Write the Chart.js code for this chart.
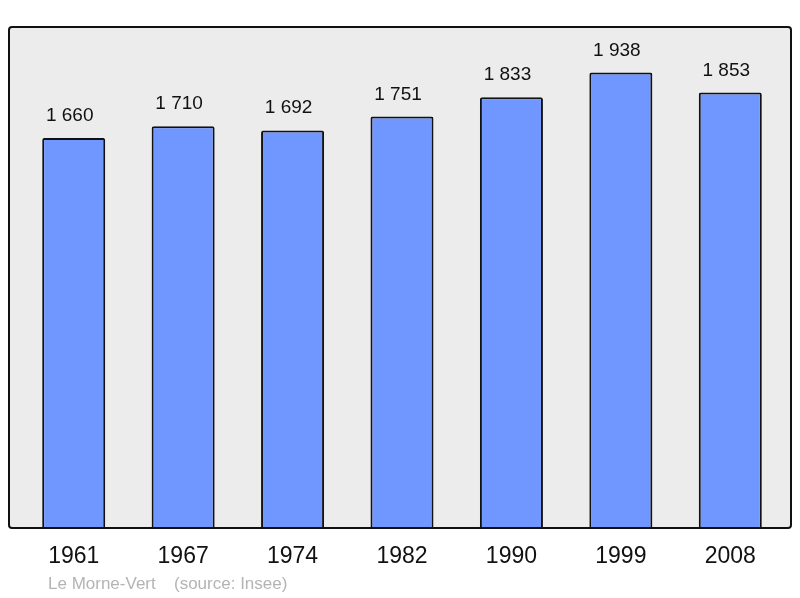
<!DOCTYPE html>
<html>
<head>
<meta charset="utf-8">
<script src="https://cdn.jsdelivr.net/npm/chart.js@4/dist/chart.umd.min.js"></script>
<style>
	html, body { margin: 0; padding: 0; background: #fff; }
	#wrap { width: 800px; height: 598px; }
</style>
</head>
<body>
<div id="wrap"><canvas id="my-chart" width="800" height="598"></canvas></div>
<script>
//==========
// Data

const years = ["1961", "1967", "1974", "1982", "1990", "1999", "2008"];
const population = [1660, 1710, 1692, 1751, 1833, 1938, 1853];
const yMax = 2132;// 1.1 x max
const place = "Le Morne-Vert";
const source = "(source: Insee)";

function fmt(n){
	// thousands separated by a space
	return String(n).replace(/\B(?=(\d{3})+(?!\d))/g, " ");
}

//==========
// Plugin: grey box, value labels, caption

const boxPlugin = {
	id: "box",
	beforeDraw(chart){
		const a = chart.chartArea;
		const ctx = chart.ctx;
		ctx.save();
		ctx.beginPath();
		ctx.roundRect(a.left - 10, a.top, a.right - a.left + 16, a.bottom - a.top, 3);
		ctx.fillStyle = "#ececec";
		ctx.fill();
		ctx.restore();
	},
	afterDatasetsDraw(chart){
		const a = chart.chartArea;
		const ctx = chart.ctx;
		ctx.save();
		ctx.beginPath();
		ctx.roundRect(a.left - 10, a.top, a.right - a.left + 16, a.bottom - a.top, 3);
		ctx.lineWidth = 2;
		ctx.strokeStyle = "#111";
		ctx.stroke();

		// values above bars
		const meta = chart.getDatasetMeta(0);
		ctx.fillStyle = "#111";
		ctx.font = "19px 'Liberation Sans', Arial, sans-serif";
		ctx.textAlign = "center";
		ctx.textBaseline = "alphabetic";
		meta.data.forEach((bar, i)=>{
			ctx.fillText(fmt(population[i]), bar.x - 4, bar.y - 17);
		});

		// caption
		ctx.fillStyle = "#b4b4b4";
		ctx.font = "17px 'Liberation Sans', Arial, sans-serif";
		ctx.textAlign = "left";
		ctx.fillText(place, 48, 589);
		ctx.fillText(source, 174, 589);
		ctx.restore();
	}
};

//==========
// Chart

const ctx = document.getElementById("my-chart").getContext("2d");
const myChart = new Chart(ctx, {
	type: "bar",
	data: {
		labels: years,
		datasets: [{
			data: population,
			backgroundColor: "#7096ff",
			borderColor: "#111",
			borderWidth: 2,
			borderRadius: 2,
			borderSkipped: "bottom",
			barPercentage: 0.576,
			categoryPercentage: 1
		}]
	},
	options: {
		responsive: false,
		animation: false,
		layout: {padding: {left: 19, right: 15, top: 27, bottom: 0}},
		plugins: {
			legend: {display: false},
			tooltip: {enabled: false}
		},
		scales: {
			x: {
				grid: {display: false, drawTicks: false},
				border: {display: false},
				ticks: {
					color: "#111",
					font: {family: "'Liberation Sans', Arial, sans-serif", size: 23},
					padding: 15,
					maxRotation: 0
				},
				afterFit(scale){ scale.height = 70; }
			},
			y: {
				display: false,
				min: 0,
				max: yMax
			}
		}
	},
	plugins: [boxPlugin]
});
</script>
</body>
</html>
